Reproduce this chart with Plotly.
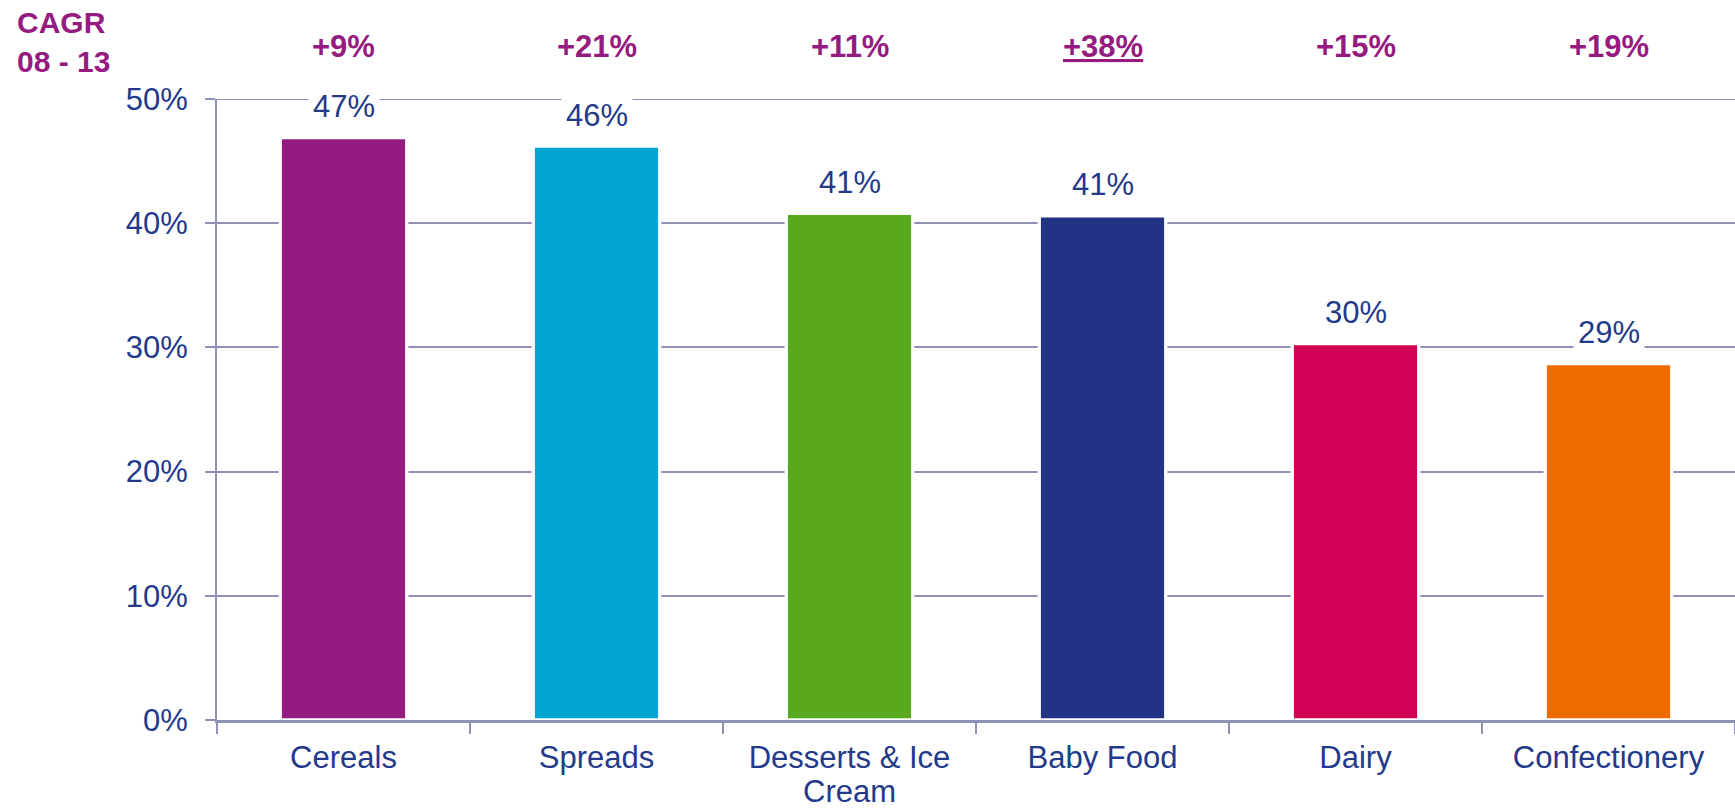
import plotly.graph_objects as go

# Category names and share values (%)
categories = ["Cereals", "Spreads", "Desserts & Ice<br>Cream", "Baby Food", "Dairy", "Confectionery"]
share = [46.9, 46.2, 40.8, 40.6, 30.3, 28.7]
cagr = ["+9%", "+21%", "+11%", "<u>+38%</u>", "+15%", "+19%"]
bar_colors = ["#951B81", "#03A6D3", "#58A91E", "#223386", "#D20155", "#EE6B02"]
y_ticks = [0, 10, 20, 30, 40, 50]
y_tick_text = [f"{v}%" for v in y_ticks]

W, H = 1735, 808
ML, MR, MT, MB = 217, 0, 99, 88
PW, PH = W - ML - MR, H - MT - MB
LINE_GAP = 34  # spacing of wrapped category label lines, px

NAVY = "#233A8B"
PURPLE = "#951B81"
GRID = "#9091B6"
FONT = "Liberation Sans, Arial, sans-serif"

fig = go.Figure()
fig.add_trace(go.Bar(
    x=categories,
    y=share,
    marker=dict(color=bar_colors, line=dict(color="white", width=3.3)),
    width=0.5,
    hoverinfo="skip",
))

# top gridline at the end of the value range
fig.add_shape(type="line", xref="paper", yref="y", x0=-10 / PW, x1=1,
              y0=y_ticks[-1], y1=y_ticks[-1], layer="below",
              line=dict(color=GRID, width=2))

annotations = []
# value labels above the bars, on a white box that cuts the gridlines
for c, v in zip(categories, share):
    annotations.append(dict(
        x=c, y=v, xref="x", yref="y", text=f"{v:.0f}%",
        showarrow=False, yanchor="middle", yshift=31,
        font=dict(family=FONT, size=31, color=NAVY),
        bgcolor="white", borderpad=4,
    ))
# growth figures along the top
for c, g in zip(categories, cagr):
    annotations.append(dict(
        x=c, y=1, xref="x", yref="paper", text=f"<b>{g}</b>",
        showarrow=False, yanchor="middle", yshift=53,
        font=dict(family=FONT, size=31, color=PURPLE),
    ))
# row title for the growth figures, placed in pixels from the page's top-left
annotations.append(dict(
    x=(15 - ML) / PW, y=1 + (MT - 4) / PH, xref="paper", yref="paper",
    text="<b>CAGR<br>08 - 13</b>",
    showarrow=False, xanchor="left", yanchor="top", align="left",
    font=dict(family=FONT, size=30, color=PURPLE),
))
# first line of each category name is the tick label; further lines are set
# below it with a tighter line spacing
first_lines = [c.split("<br>")[0] for c in categories]
for c in categories:
    for i, extra in enumerate(c.split("<br>")[1:], start=1):
        annotations.append(dict(
            x=c, y=0, xref="x", yref="paper", text=extra,
            showarrow=False, yanchor="middle", yshift=-37 - i * LINE_GAP,
            height=32, valign="middle", borderpad=0,
            font=dict(family=FONT, size=31, color=NAVY),
        ))

fig.update_layout(
    width=W, height=H,
    margin=dict(l=ML, r=MR, t=MT, b=MB),
    paper_bgcolor="white", plot_bgcolor="white",
    showlegend=False,
    annotations=annotations,
    xaxis=dict(
        tickvals=categories, ticktext=first_lines,
        showline=True, linecolor=GRID, linewidth=3,
        ticks="outside", tickson="boundaries", ticklen=11, tickwidth=2, tickcolor=GRID,
        tickfont=dict(family=FONT, size=31, color=NAVY),
        ticklabelstandoff=8,
        showgrid=False, automargin=False,
    ),
    yaxis=dict(
        range=[0, 50], tickvals=y_ticks, ticktext=y_tick_text,
        showline=True, linecolor=GRID, linewidth=2,
        ticks="outside", ticklen=10, tickwidth=2, tickcolor=GRID,
        showgrid=True, gridcolor=GRID, gridwidth=2,
        zeroline=False, automargin=False,
        tickfont=dict(family=FONT, size=31, color=NAVY),
        ticklabelstandoff=11,
    ),
)

fig.write_html("out.html")
